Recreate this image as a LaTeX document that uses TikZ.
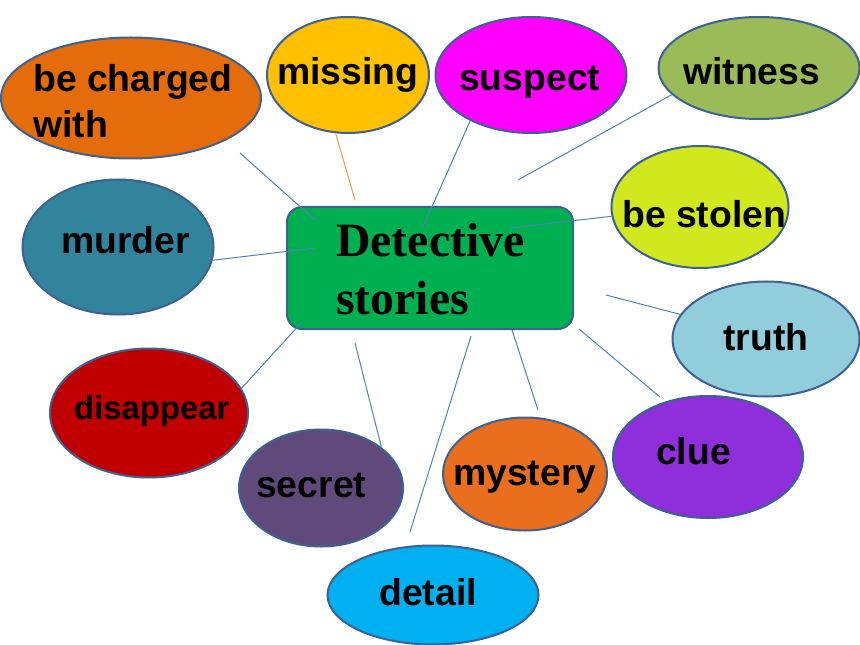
\documentclass[tikz,border=0pt]{standalone}
\usepackage{fontspec}
\setmainfont{Liberation Serif}
\setsansfont{Liberation Sans}
\usetikzlibrary{shapes.geometric}
\definecolor{edgeblue}{HTML}{3D6190}
\definecolor{lineblue}{HTML}{4F81BD}
\definecolor{lineorange}{HTML}{F79646}
\definecolor{boxgreen}{HTML}{00B050}
\definecolor{cCharged}{HTML}{E46C0A}
\definecolor{cMissing}{HTML}{FFC000}
\definecolor{cSuspect}{HTML}{FF00FF}
\definecolor{cWitness}{HTML}{9BBB59}
\definecolor{cStolen}{HTML}{D2E81E}
\definecolor{cTruth}{HTML}{92CDDC}
\definecolor{cClue}{HTML}{8E2FDB}
\definecolor{cMystery}{HTML}{E96F1F}
\definecolor{cDetail}{HTML}{00B0F0}
\definecolor{cSecret}{HTML}{604A7B}
\definecolor{cDisappear}{HTML}{C00000}
\definecolor{cMurder}{HTML}{31849B}
\begin{document}
\begin{tikzpicture}[x=1bp,y=1bp,
  bub/.style={ellipse, draw=edgeblue, line width=2bp, inner sep=0pt},
  lbl/.style={anchor=base west, inner sep=0pt, text=black,
    font=\sffamily\bfseries\fontsize{37.5}{40}\selectfont},
  smalllbl/.style={lbl, font=\sffamily\bfseries\fontsize{33}{36}\selectfont},
  hubtext/.style={anchor=base west, inner sep=0pt, text=black,
    font=\rmfamily\bfseries\fontsize{48}{57}\selectfont},
  conn/.style={draw=lineblue, line width=1bp},
  connorange/.style={draw=lineorange, line width=1bp}]
\fill[white] (0,0) rectangle (860,-645);
\useasboundingbox (0,0) rectangle (860,-645);

% bubbles
\node[bub, fill=cCharged, minimum width=260bp, minimum height=121bp] (charged) at (131,-98) {};
\node[bub, fill=cMissing, minimum width=162bp, minimum height=116bp] (missing) at (348,-75) {};
\node[bub, fill=cSuspect, minimum width=191bp, minimum height=116bp] (suspect) at (531,-75) {};
\node[bub, fill=cWitness, minimum width=201bp, minimum height=102bp] (witness) at (759,-68) {};
\node[bub, fill=cStolen, minimum width=177bp, minimum height=122bp] (stolen) at (700,-207) {};
\node[bub, fill=cMurder, minimum width=191bp, minimum height=135bp] (murder) at (118,-247) {};
\node[bub, fill=cTruth, minimum width=187bp, minimum height=115bp] (truth) at (766,-339) {};
\node[bub, fill=cDisappear, minimum width=198bp, minimum height=129bp] (disappear) at (149,-413) {};
\node[bub, fill=cClue, minimum width=190bp, minimum height=122bp] (clue) at (708,-457) {};
\node[bub, fill=cSecret, minimum width=164bp, minimum height=117bp] (secret) at (321,-488) {};
\node[bub, fill=cMystery, minimum width=164bp, minimum height=113bp] (mystery) at (525,-474) {};
\node[bub, fill=cDetail, minimum width=211bp, minimum height=99bp] (detail) at (433,-595) {};

% labels
\node[lbl] (tCharged1) at (33,-92) {be charged};
\node[lbl] (tCharged2) at (33,-138) {with};
\node[lbl] (tMissing) at (277,-85) {missing};
\node[lbl] (tSuspect) at (459,-91) {suspect};
\node[lbl] (tWitness) at (683,-85) {witness};
\node[lbl] (tStolen) at (622,-228) {be stolen};
\node[lbl] (tMurder) at (61,-254) {murder};
\node[lbl] (tTruth) at (723,-350) {truth};
\node[smalllbl] (tDisappear) at (74,-419) {disappear};
\node[lbl] (tClue) at (656,-464) {clue};
\node[lbl] (tSecret) at (256,-497) {secret};
\node[lbl] (tMystery) at (453,-485) {mystery};
\node[lbl] (tDetail) at (379,-605) {detail};

% hub
\node[draw=edgeblue, line width=2bp, fill=boxgreen, rounded corners=15bp,
  minimum width=286bp, minimum height=122bp, inner sep=0pt] (hub) at (430,-268) {};
\node[hubtext] (hubt1) at (336,-257) {Detective};
\node[hubtext] (hubt2) at (336,-314) {stories};

% connector ends
\coordinate (eChargedA) at (240,-153);
\coordinate (eChargedB) at (315,-220);
\coordinate (eMissing) at (355,-200);
\coordinate (eSuspect) at (423,-227);
\coordinate (eWitness) at (518,-180);
\coordinate (eStolen) at (510,-228);
\coordinate (eMurder) at (315,-248);
\coordinate (eDisappear) at (302,-322);
\coordinate (eSecret) at (355,-343);
\coordinate (eDetailA) at (410,-532);
\coordinate (eDetailB) at (471,-336);
\coordinate (eMysteryA) at (538,-410);
\coordinate (eMysteryB) at (512,-330);
\coordinate (eClueA) at (660,-397);
\coordinate (eClueB) at (579,-329);
\coordinate (eTruth) at (606,-295);

% connectors
\draw[conn] (eChargedA) -- (eChargedB);
\draw[connorange] (missing.-102.6) -- (eMissing);
\draw[conn] (suspect.-143.6) -- (eSuspect);
\draw[conn] (witness.-163.5) -- (eWitness);
\draw[conn] (stolen.-174.8) -- (eStolen);
\draw[conn] (murder.-8.4) -- (eMurder);
\draw[conn] (disappear.15) -- (eDisappear);
\draw[conn] (secret.34.8) -- (eSecret);
\draw[conn] (eDetailA) -- (eDetailB);
\draw[conn] (eMysteryA) -- (eMysteryB);
\draw[conn] (eClueA) -- (eClueB);
\draw[conn] (truth.164.4) -- (eTruth);
\end{tikzpicture}
\end{document}
